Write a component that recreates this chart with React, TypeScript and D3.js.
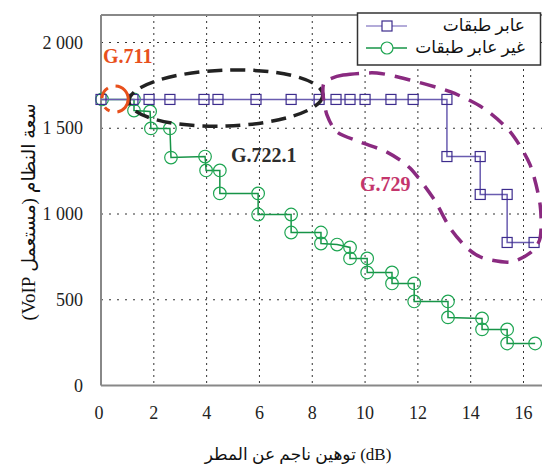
import React from "react";
import * as d3 from "d3";

// cumulative step points (dB, users)
const crossX = [0, 1.21, 1.82, 2.61, 3.9, 4.43, 5.87, 7.2, 8.26, 8.9, 9.43, 10.0, 10.98, 11.82, 13.1, 13.1, 14.36, 14.36, 15.38, 15.38, 16.4];
const crossY = [1668, 1668, 1668, 1668, 1668, 1668, 1668, 1668, 1668, 1668, 1668, 1668, 1668, 1668, 1668, 1335, 1335, 1114, 1114, 834, 834];

const nonCrossX = [0.04, 1.25, 1.25, 1.86, 1.89, 2.61, 2.65, 3.94, 3.98, 4.5, 4.5, 5.95, 5.95, 7.2, 7.2, 8.33, 8.33, 8.94, 9.43, 9.43, 10.08, 10.08, 11.02, 11.02, 11.86, 11.86, 13.14, 13.14, 14.43, 14.43, 15.38, 15.38, 16.44];
const nonCrossY = [1668, 1668, 1603, 1598, 1499, 1499, 1329, 1335, 1254, 1254, 1120, 1120, 997, 997, 892, 892, 828, 822, 805, 741, 741, 659, 659, 595, 595, 490, 490, 397, 391, 327, 327, 245, 245];

const xTicks = [0, 2, 4, 6, 8, 10, 12, 14, 16];
const yTicks = [0, 500, 1000, 1500, 2000];
const yTickLabels = ["0", "500", "1 000", "1 500", "2 000"];

const seriesNames = ["عابر طبقات", "غير عابر طبقات"];
const xTitle = "توهين ناجم عن المطر (dB)";
const yTitle = "سعة النظام (مستعمل VoIP)";

// annotation outline for G.729 (dB, users)
const blobX = [8.48, 9.17, 10.45, 11.7, 13.22, 14.47, 15.49, 16.25, 16.63, 16.63, 16.25, 15.49, 14.47, 13.86, 13.22, 12.58, 11.7, 10.83, 9.81, 8.94, 8.56, 8.41];
const blobY = [1771, 1810, 1822, 1781, 1713, 1618, 1480, 1286, 1053, 860, 773, 720, 743, 802, 918, 1093, 1268, 1361, 1420, 1478, 1577, 1694];

const serif = "'Liberation Serif', 'DejaVu Serif', 'DejaVu Sans', serif";
const purple = "#3d2c8d";
const purpleLine = "#6a5cb0";
const green = "#1ea552";
const greenLine = "#179447";

export default function App() {
  const x = d3.scaleLinear().domain([0, 16.7]).range([101, 542]);
  const y = d3.scaleLinear().domain([0, 2000]).range([385.5, 42.5]);
  const top = 15;

  const crossPts = crossX.map((d, i) => [d, crossY[i]] as [number, number]);
  const nonPts = nonCrossX.map((d, i) => [d, nonCrossY[i]] as [number, number]);
  const line = d3.line<[number, number]>().x(d => x(d[0])).y(d => y(d[1]));
  const blob = d3.line<[number, number]>().x(d => x(d[0])).y(d => y(d[1])).curve(d3.curveCardinalClosed.tension(0.2));
  const blobPts = blobX.map((d, i) => [d, blobY[i]] as [number, number]);

  return (
    <svg width={542} height={470} style={{ position: "absolute", left: 0, top: 0, background: "#fff" }} fontFamily={serif}>
      {/* grid */}
      {xTicks.filter(t => t > 0).map(t => (
        <line key={"gx" + t} x1={x(t)} x2={x(t)} y1={top} y2={y(0)} stroke="#333" strokeWidth={1} strokeDasharray="2,4" />
      ))}
      {yTicks.filter(t => t > 0).map(t => (
        <line key={"gy" + t} x1={x(0)} x2={542} y1={y(t)} y2={y(t)} stroke="#333" strokeWidth={1} strokeDasharray="2,6" />
      ))}

      {/* frame */}
      <line x1={x(0)} x2={542} y1={top} y2={top} stroke="#888" strokeWidth={2} />
      <line x1={x(0)} x2={x(0)} y1={top} y2={y(0)} stroke="#888" strokeWidth={2} />
      <line x1={x(0)} x2={542} y1={y(0)} y2={y(0)} stroke="#888" strokeWidth={2} />

      {/* tick labels */}
      {xTicks.map(t => (
        <text key={"tx" + t} x={x(t) - (t === 0 ? 2 : 0)} y={419} textAnchor="middle" fontSize={18} fill="#222">{t}</text>
      ))}
      {yTicks.map((t, i) => (
        <text key={"ty" + t} x={83} y={y(t) + 6} textAnchor="end" fontSize={18} fill="#222">{yTickLabels[i]}</text>
      ))}

      {/* axis titles */}
      <text x={298} y={460} textAnchor="middle" fontSize={17} fill="#111">{xTitle}</text>
      <text transform="translate(35,212) rotate(-90)" textAnchor="middle" fontSize={19} fill="#111" direction="rtl">{yTitle}</text>

      {/* series */}
      <path d={line(nonPts) || ""} fill="none" stroke={greenLine} strokeWidth={1.5} />
      {nonPts.map((d, i) => (
        <circle key={"c" + i} cx={x(d[0])} cy={y(d[1])} r={6.3} fill="none" stroke={green} strokeWidth={1.2} />
      ))}
      <path d={line(crossPts) || ""} fill="none" stroke={purpleLine} strokeWidth={1.5} />
      {crossPts.map((d, i) => (
        <rect key={"s" + i} x={x(d[0]) - 5} y={y(d[1]) - 5} width={10} height={10} fill="none" stroke={purple} strokeWidth={1.2} />
      ))}

      {/* annotations */}
      <ellipse cx={x(4.73)} cy={y(1676)} rx={x(4.73 + 3.67) - x(4.73)} ry={y(1676) - y(1676 + 163)} fill="none"
        stroke="#222" strokeWidth={3.5} strokeDasharray="15,8" transform={`rotate(-2 ${x(4.73)} ${y(1676)})`} />
      <ellipse cx={x(0.53)} cy={y(1670)} rx={x(0.53 + 0.5) - x(0.53)} ry={y(1670) - y(1670 + 76)} fill="none"
        stroke="#e8501c" strokeWidth={3} strokeDasharray="30,8,6,10,12,8" strokeDashoffset={12} />
      <path d={blob(blobPts) || ""} fill="none" stroke="#8a2a80" strokeWidth={3.5} strokeDasharray="16,10" />

      <text x={103} y={63} fontSize={20} fontWeight="bold" fill="#e8501c">G.711</text>
      <text x={231} y={162} fontSize={20} fontWeight="bold" fill="#2d2d2d">G.722.1</text>
      <text x={360} y={191} fontSize={20} fontWeight="bold" fill="#c4356c">G.729</text>

      {/* legend */}
      <rect x={357.5} y={13} width={183} height={52} fill="#fff" stroke="#333" strokeWidth={1.5} />
      <line x1={366} x2={407} y1={26} y2={26} stroke="#9a8fcc" strokeWidth={1.5} />
      <rect x={382} y={21} width={10} height={10} fill="#fff" stroke={purple} strokeWidth={1.2} />
      <text x={525} y={31} textAnchor="end" fontSize={17} fill="#111">{seriesNames[0]}</text>
      <line x1={366} x2={407} y1={48} y2={48} stroke={greenLine} strokeWidth={1.5} />
      <circle cx={387} cy={48} r={6} fill="#fff" stroke={green} strokeWidth={1.2} />
      <text x={525} y={53} textAnchor="end" fontSize={17} fill="#111">{seriesNames[1]}</text>
    </svg>
  );
}
